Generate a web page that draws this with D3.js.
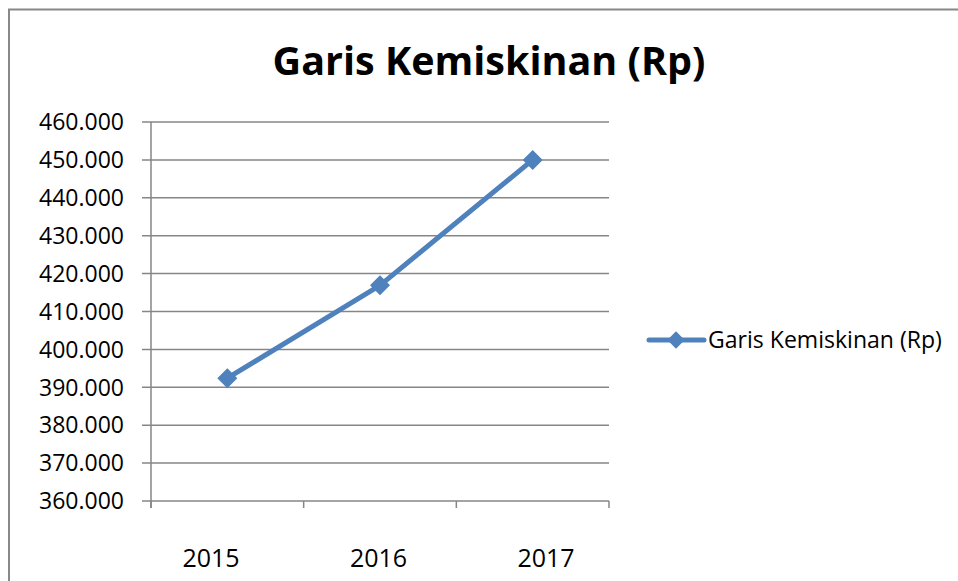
<!DOCTYPE html>
<html><head><meta charset="utf-8">
<script src="https://cdn.jsdelivr.net/npm/d3@7"></script>
<style>body{margin:0;background:#fff}svg{display:block}text{font-family:"Open Sans",sans-serif}</style>
</head><body>
<svg id="c" width="958" height="581"></svg>
<script>
const categories = ["2015", "2016", "2017"];
const seriesName = "Garis Kemiskinan (Rp)";
const values = [392400, 416900, 450000];
const yTicks = [360000, 370000, 380000, 390000, 400000, 410000, 420000, 430000, 440000, 450000, 460000];
const titleText = "Garis Kemiskinan (Rp)";

const svg = d3.select("#c");
const W = 958, H = 581;
const color = "#4F81BD", grid = "#868686";

// outer border (cropped at right/bottom)
svg.append("path").attr("d", `M9,${H+2} V9.5 H${W+2}`).attr("fill","none").attr("stroke","#888").attr("stroke-width",2);

const pLeft = 151, pRight = 609, pTop = 122, pBottom = 501;
const x = d3.scaleBand().domain(categories).range([pLeft, pRight]);
const y = d3.scaleLinear().domain([360000, 460000]).range([pBottom, pTop]);
const fmt = v => d3.format(",")(v).replace(/,/g, ".");

// gridlines
svg.append("g").selectAll("line").data(yTicks).join("line")
  .attr("x1", pLeft - 9).attr("x2", pRight)
  .attr("y1", d => y(d)).attr("y2", d => y(d))
  .attr("stroke", grid).attr("stroke-width", 1.5);

// y axis line
svg.append("line").attr("x1", pLeft).attr("x2", pLeft).attr("y1", pTop).attr("y2", pBottom + 7)
  .attr("stroke", grid).attr("stroke-width", 1.5);
// x tick marks at band boundaries
const bounds = categories.map(c => x(c)).concat([x(categories[categories.length-1]) + x.bandwidth()]);
svg.append("g").selectAll("line").data(bounds).join("line")
  .attr("x1", d => d).attr("x2", d => d).attr("y1", pBottom).attr("y2", pBottom + 7)
  .attr("stroke", grid).attr("stroke-width", 1.5);

// y labels
svg.append("g").selectAll("text").data(yTicks).join("text")
  .attr("x", 124).attr("y", d => y(d)).attr("dy", "0.36em").attr("text-anchor", "end")
  .attr("font-size", 23).attr("fill", "#000").text(fmt);

// x labels (Excel offset layout)
const xl = d3.scalePoint().domain(categories).range([211, 546]);
svg.append("g").selectAll("text").data(categories).join("text")
  .attr("x", d => xl(d)).attr("y", 567).attr("text-anchor", "middle")
  .attr("font-size", 25).attr("fill", "#000").text(d => d);

// line
const cx = c => x(c) + x.bandwidth() / 2;
const pts = categories.map((c, i) => [cx(c), y(values[i])]);
svg.append("path").attr("d", d3.line()(pts)).attr("fill", "none")
  .attr("stroke", color).attr("stroke-width", 5).attr("stroke-linejoin", "round");
svg.append("g").selectAll("path").data(pts).join("path")
  .attr("d", d3.symbol().type(d3.symbolSquare).size(200)())
  .attr("transform", d => `translate(${d[0]},${d[1]}) rotate(45)`)
  .attr("fill", color);

// title
const t = svg.append("text").attr("x", 489).attr("y", 75).attr("text-anchor", "middle")
  .attr("font-weight", "bold").attr("font-size", 40).attr("fill", "#000").text(titleText);
const tw = t.node().getComputedTextLength();
t.attr("font-size", 40 * 433 / tw);

// legend
const ly = 340;
svg.append("line").attr("x1", 649).attr("x2", 704).attr("y1", ly).attr("y2", ly)
  .attr("stroke", color).attr("stroke-width", 5).attr("stroke-linecap", "round");
svg.append("path").attr("d", d3.symbol().type(d3.symbolSquare).size(150)())
  .attr("transform", `translate(676,${ly}) rotate(45)`).attr("fill", color);
const lt = svg.append("text").attr("x", 708).attr("y", ly).attr("dy", "0.36em")
  .attr("font-size", 22).attr("fill", "#000").text(seriesName);
const lw = lt.node().getComputedTextLength();
lt.attr("font-size", 22 * 234 / lw);
</script>
</body></html>
